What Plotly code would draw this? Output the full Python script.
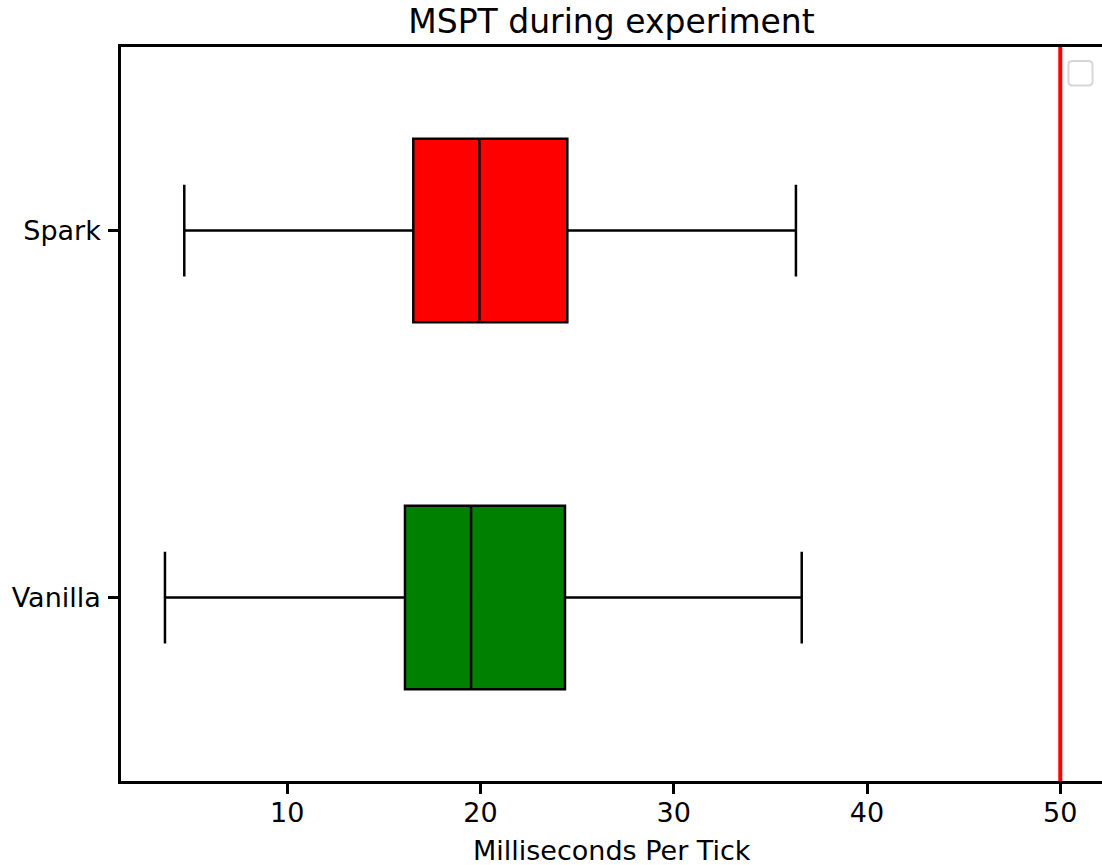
import plotly.graph_objects as go

categories = ["Vanilla", "Spark"]
positions = [1, 2]
lower_whisker = [3.67, 4.67]
q1_vals = [16.09, 16.52]
median_vals = [19.51, 19.94]
q3_vals = [24.37, 24.49]
upper_whisker = [36.62, 36.32]
box_colors = ["green", "red"]
limit_value = 50
x_ticks = [10, 20, 30, 40, 50]

W, H = 1102, 865
L, R, T, B = 121, 0, 47, 84
pw, ph = W - L - R, H - T - B

fig = go.Figure()
for i, cat in enumerate(categories):
    fig.add_trace(go.Box(
        orientation="h",
        y=[positions[i]],
        q1=[q1_vals[i]], median=[median_vals[i]], q3=[q3_vals[i]],
        lowerfence=[lower_whisker[i]], upperfence=[upper_whisker[i]],
        fillcolor=box_colors[i],
        line=dict(color="black", width=2.5),
        whiskerwidth=0.5,
        width=0.5,
        boxpoints=False,
        name=cat,
        showlegend=False,
    ))

fig.add_shape(type="line", xref="x", yref="paper", x0=limit_value, x1=limit_value,
              y0=0, y1=1, line=dict(color="red", width=4), layer="above")

# empty legend frame (rounded box)
def P(px, py):
    a, b = (px - L) / pw, (H - B - py) / ph
    return f"{a:.5f},{b:.5f}"

x0, x1, y0, y1, r = 1068.5, 1092.5, 61, 85.5, 4
path = (f"M {P(x0 + r, y0)} L {P(x1 - r, y0)} Q {P(x1, y0)} {P(x1, y0 + r)} "
        f"L {P(x1, y1 - r)} Q {P(x1, y1)} {P(x1 - r, y1)} "
        f"L {P(x0 + r, y1)} Q {P(x0, y1)} {P(x0, y1 - r)} "
        f"L {P(x0, y0 + r)} Q {P(x0, y0)} {P(x0 + r, y0)} Z")
fig.add_shape(type="path", xref="paper", yref="paper", path=path,
              line=dict(color="#d6d6d6", width=2), fillcolor="white")

fig.add_annotation(text="Milliseconds Per Tick", xref="paper", yref="paper",
                   x=0.5, y=(H - B - 850) / ph, yanchor="middle", showarrow=False,
                   font=dict(size=27, color="black", family="DejaVu Sans"))

fig.update_layout(
    width=W, height=H,
    margin=dict(l=L, r=R, t=T, b=B),
    plot_bgcolor="white", paper_bgcolor="white",
    font=dict(family="DejaVu Sans", size=27, color="black"),
    title=dict(text="MSPT during experiment", x=0.5, xref="paper",
               y=1 - 21 / H, yref="container", yanchor="middle",
               font=dict(size=33, color="black", family="DejaVu Sans")),
    showlegend=False,
    xaxis=dict(range=[1.395, 1.395 + pw / 19.325], tickvals=x_ticks,
               showgrid=False, zeroline=False, showline=True, mirror=True,
               linecolor="black", linewidth=2.5, ticks="outside", ticklen=10,
               tickwidth=2.5, tickcolor="black", ticklabelstandoff=-4),
    yaxis=dict(range=[0.5, 2.5], tickvals=positions, ticktext=categories,
               showgrid=False, zeroline=False, showline=True, mirror=False,
               linecolor="black", linewidth=2.5, ticks="outside", ticklen=10,
               tickwidth=2.5, tickcolor="black", ticklabelstandoff=2),
)

fig.write_html("out.html", config={"displayModeBar": False},
               post_script="document.body.style.margin='0';document.body.style.overflow='hidden';")
